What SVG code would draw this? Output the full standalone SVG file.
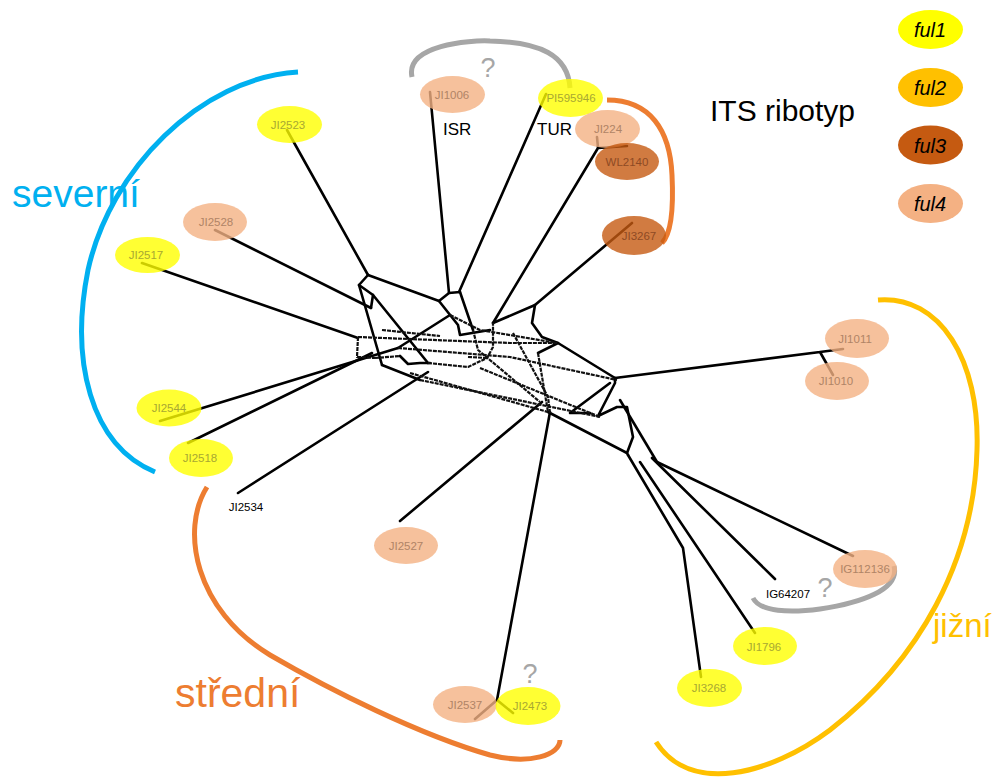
<svg xmlns="http://www.w3.org/2000/svg" width="997" height="782" viewBox="0 0 997 782">
  <defs>
    <style>
      .edge{fill:none;stroke:#000;stroke-width:2.6;stroke-linecap:round;stroke-linejoin:round}
      .split{fill:none;stroke:#111;stroke-width:2.2;stroke-dasharray:4 1;stroke-linecap:butt;stroke-linejoin:round}
      .arc{fill:none;stroke-width:5;stroke-linecap:butt}
      .node ellipse{fill-opacity:0.8}
      .y{fill:#ffff00}
      .p{fill:#f4b183}
      .b{fill:#c55a11}
      .lbl{font-family:"Liberation Sans",Arial,sans-serif;font-size:11.5px;text-anchor:middle}
      .ty{fill:#a8a832}
      .tp{fill:#b08466}
      .tb{fill:#8e4a24}
      .tk{fill:#000}
      .group{font-family:"Liberation Sans",Arial,sans-serif}
      .q{font-family:"Liberation Sans",Arial,sans-serif;font-size:27px;fill:#a6a6a6;text-anchor:middle}
      .leg{font-family:"Liberation Sans",Arial,sans-serif;font-style:italic;font-size:20px;fill:#000;text-anchor:middle}
    </style>
  </defs>
  <rect width="997" height="782" fill="#fff"/>

  <!-- split network and terminal branches -->
  <g id="connectors">
    <!-- terminal branches -->
    <path class="edge" d="M287,130 L368,275"/>
    <path class="edge" d="M215,230 L371,308"/>
    <path class="edge" d="M142,263 L358,338"/>
    <path class="edge" d="M160,421 L398,348"/>
    <path class="edge" d="M188,443 L372,353"/>
    <path class="edge" d="M238,493 L428,372"/>
    <path class="edge" d="M400,521 L542,402"/>
    <path class="edge" d="M475,719 L497,700 L513,713 M497,700 L550,412"/>
    <path class="edge" d="M430,92 L449,293"/>
    <path class="edge" d="M546,94 L459,292"/>
    <path class="edge" d="M597,137 L598,148 L627,146 M598,148 L493,323"/>
    <path class="edge" d="M632,223 L535,305"/>
    <path class="edge" d="M843,349 L820,352 L833,375 M820,352 L615,378"/>
    <path class="edge" d="M853,556 L657,462"/>
    <path class="edge" d="M775,579 L652,458"/>
    <path class="edge" d="M755,633 L640,462"/>
    <path class="edge" d="M701,677 L683,548 L628,455"/>

    <!-- network outline -->
    <path class="edge" d="M368,275 L359,285 L373,295 L371,308"/>
    <path class="edge" d="M368,275 L439,301 L449,293 L460,292"/>
    <path class="edge" d="M439,301 L458,325 L460,335 L490,330"/>
    <path class="edge" d="M460,292 L473,330"/>
    <path class="edge" d="M359,285 L382,365"/>
    <path class="edge" d="M373,295 L428,363"/>
    <path class="edge" d="M493,323 L535,305 L532,323 L542,337 L558,343 L615,378"/>
    <path class="edge" d="M558,343 L538,353"/>
    <path class="edge" d="M615,378 L615,383 L598,416 L617,407 L627,407 L633,437 L627,453 L628,455"/>
    <path class="edge" d="M610,383 L570,413 L590,413"/>
    <path class="edge" d="M548,412 L627,453"/>
    <path class="edge" d="M620,400 L657,462"/>
    <path class="edge" d="M382,365 L420,380"/>
    <path class="edge" d="M398,348 L450,315"/>
    <path class="edge" d="M400,356 L408,364 L420,363 L430,363"/>

    <!-- inner parallel splits -->
    <path class="split" d="M358,337 L357,357 L375,358"/>
    <path class="split" d="M358,337 L510,343 L557,343"/>
    <path class="split" d="M420,380 L600,417"/>
    <path class="split" d="M398,348 L510,357 L617,380"/>
    <path class="split" d="M410,373 L548,412"/>
    <path class="split" d="M428,363 L468,367 L487,358 L493,347 L493,323"/>
    <path class="split" d="M468,357 L487,358"/>
    <path class="split" d="M513,333 L548,397 L550,413"/>
    <path class="split" d="M538,353 L548,412"/>
    <path class="split" d="M480,368 L600,417"/>
    <path class="split" d="M450,315 L480,330 L557,343"/>
    <path class="split" d="M473,330 L478,350 L540,402"/>
    <path class="split" d="M375,358 L400,356"/>
    <path class="split" d="M382,330 L440,336"/>
  </g>

  <!-- group brackets -->
  <g id="brackets">
    <path class="arc" stroke="#00b0f0" d="M298,72 C200,78 110,170 88,270 C70,360 90,445 155,472"/>
    <path class="arc" stroke="#ed7d31" d="M207,487 C180,530 195,610 270,655 C330,690 420,735 490,755 C530,765 560,755 560,740"/>
    <path class="arc" stroke="#ffc000" d="M878,300 C940,295 980,360 977,450 C974,560 920,660 830,730 C770,775 690,795 656,742"/>
    <path class="arc" stroke="#ed7d31" d="M607,100 C650,100 670,130 672,175 C674,215 670,235 662,243"/>
    <path class="arc" stroke="#a6a6a6" stroke-width="4" d="M412,77 C405,45 470,40 490,41 C540,42 568,55 570,88"/>
    <path class="arc" stroke="#a6a6a6" stroke-width="4" d="M753,598 C760,612 790,613 820,609 C860,603 900,590 894,566"/>
  </g>

  <!-- accessions -->
  <g id="JI1006" class="node"><ellipse class="p" cx="452.5" cy="94.5" rx="32.5" ry="18.5"/><text class="lbl tp" x="452" y="99">JI1006</text></g>
  <g id="PI595946" class="node"><ellipse class="y" cx="570.5" cy="98" rx="32.5" ry="19"/><text class="lbl ty" x="571" y="102">PI595946</text></g>
  <g id="JI224" class="node"><ellipse class="p" cx="607.5" cy="129" rx="32.5" ry="19"/><text class="lbl tp" x="608" y="133">JI224</text></g>
  <g id="WL2140" class="node"><ellipse class="b" cx="627" cy="161.5" rx="32" ry="18.5"/><text class="lbl tb" x="627" y="166">WL2140</text></g>
  <g id="JI3267" class="node"><ellipse class="b" cx="634" cy="235.5" rx="32" ry="19.5"/><text class="lbl tb" x="639" y="240">JI3267</text></g>
  <g id="JI2523" class="node"><ellipse class="y" cx="289.5" cy="124.5" rx="32.5" ry="18.5"/><text class="lbl ty" x="288" y="129">JI2523</text></g>
  <g id="JI2528" class="node"><ellipse class="p" cx="215" cy="222" rx="32" ry="19"/><text class="lbl tp" x="216" y="226">JI2528</text></g>
  <g id="JI2517" class="node"><ellipse class="y" cx="147.5" cy="255" rx="32.5" ry="18"/><text class="lbl ty" x="146" y="259">JI2517</text></g>
  <g id="JI2544" class="node"><ellipse class="y" cx="169" cy="408" rx="32.5" ry="18.5"/><text class="lbl ty" x="169" y="412">JI2544</text></g>
  <g id="JI2518" class="node"><ellipse class="y" cx="201" cy="458" rx="32" ry="19"/><text class="lbl ty" x="200" y="462">JI2518</text></g>
  <g id="JI2534" class="node"><text class="lbl tk" x="246" y="511">JI2534</text></g>
  <g id="JI2527" class="node"><ellipse class="p" cx="406" cy="545.5" rx="32" ry="18.5"/><text class="lbl tp" x="406" y="550">JI2527</text></g>
  <g id="JI2537" class="node"><ellipse class="p" cx="465" cy="704.5" rx="32" ry="18.5"/><text class="lbl tp" x="465" y="709">JI2537</text></g>
  <g id="JI2473" class="node"><ellipse class="y" cx="528" cy="706" rx="32.5" ry="19"/><text class="lbl ty" x="530" y="710">JI2473</text></g>
  <g id="JI3268" class="node"><ellipse class="y" cx="709.5" cy="688" rx="32.5" ry="19"/><text class="lbl ty" x="709" y="692">JI3268</text></g>
  <g id="JI1796" class="node"><ellipse class="y" cx="765" cy="646" rx="32" ry="19"/><text class="lbl ty" x="764" y="651">JI1796</text></g>
  <g id="IG112136" class="node"><ellipse class="p" cx="865" cy="569" rx="32" ry="19"/><text class="lbl tp" x="865" y="573">IG112136</text></g>
  <g id="IG64207" class="node"><text class="lbl tk" x="788" y="598">IG64207</text></g>
  <g id="JI1011" class="node"><ellipse class="p" cx="857" cy="338.5" rx="32" ry="19.5"/><text class="lbl tp" x="855" y="343">JI1011</text></g>
  <g id="JI1010" class="node"><ellipse class="p" cx="837" cy="381" rx="32" ry="19"/><text class="lbl tp" x="836" y="385">JI1010</text></g>

  <!-- annotations -->
  <text x="443" y="135" font-family="Liberation Sans, Arial, sans-serif" font-size="17" fill="#000">ISR</text>
  <text x="537" y="135" font-family="Liberation Sans, Arial, sans-serif" font-size="17" fill="#000">TUR</text>
  <text class="q" x="488" y="77">?</text>
  <text class="q" x="530" y="683">?</text>
  <text class="q" x="825" y="597">?</text>

  <text class="group" x="12" y="207" font-size="39" fill="#00b0f0">severní</text>
  <text class="group" x="175" y="707" font-size="41" fill="#ed7d31">střední</text>
  <text class="group" x="933" y="637" font-size="33" fill="#ffc000">jižní</text>

  <!-- legend -->
  <g id="legend">
    <text x="710" y="121" font-family="Liberation Sans, Arial, sans-serif" font-size="30" fill="#000">ITS ribotyp</text>
    <ellipse cx="930.5" cy="29.5" rx="32.5" ry="19.5" fill="#ffff00"/>
    <text class="leg" x="930" y="37">ful1</text>
    <ellipse cx="930.5" cy="87.5" rx="32.5" ry="19.5" fill="#ffc000"/>
    <text class="leg" x="930" y="95">ful2</text>
    <ellipse cx="930.5" cy="145" rx="32.5" ry="19.5" fill="#c55a11"/>
    <text class="leg" x="930" y="153">ful3</text>
    <ellipse cx="930.5" cy="203.5" rx="32.5" ry="19.5" fill="#f4b183"/>
    <text class="leg" x="930" y="211">ful4</text>
  </g>
</svg>
